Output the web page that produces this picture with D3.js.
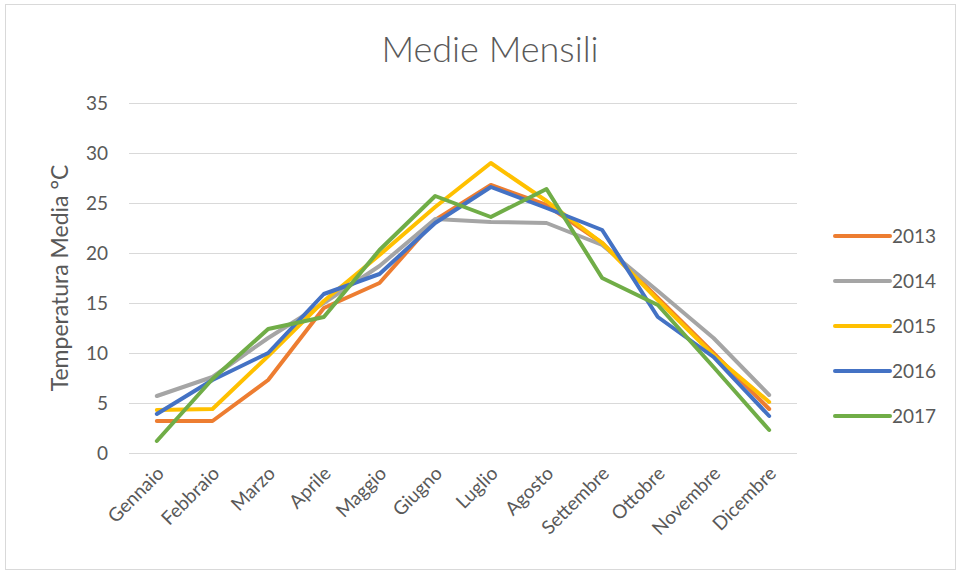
<!DOCTYPE html>
<html>
<head>
<meta charset="utf-8">
<script src="https://cdn.jsdelivr.net/npm/d3@7/dist/d3.min.js"></script>
<style>
  html, body { margin: 0; padding: 0; background: #ffffff; }
  svg { display: block; }
  text { font-family: Lato, "Open Sans", sans-serif; fill: #595959; }
</style>
</head>
<body>
<svg id="chart" width="961" height="574"></svg>
<script>
// Monthly mean temperatures (°C) per year
const months = ["Gennaio", "Febbraio", "Marzo", "Aprile", "Maggio", "Giugno",
                "Luglio", "Agosto", "Settembre", "Ottobre", "Novembre", "Dicembre"];
const years = ["2013", "2014", "2015", "2016", "2017"];
const values2013 = [3.2, 3.2, 7.3, 14.5, 17.0, 23.3, 26.8, 24.8, 21.0, 15.5, 10.0, 4.4];
const values2014 = [5.7, 7.6, 11.5, 15.0, 18.7, 23.4, 23.1, 23.0, 20.8, 16.2, 11.5, 5.8];
const values2015 = [4.3, 4.4, 9.7, 15.2, 19.8, 24.6, 29.0, 25.2, 21.0, 15.3, 9.8, 5.1];
const values2016 = [3.9, 7.3, 10.0, 15.9, 17.9, 23.0, 26.6, 24.5, 22.3, 13.6, 9.6, 3.7];
const values2017 = [1.2, 7.4, 12.4, 13.6, 20.3, 25.7, 23.6, 26.4, 17.5, 14.8, 8.6, 2.3];
const yTicks = [0, 5, 10, 15, 20, 25, 30, 35];
const colors = ["#ED7D31", "#A5A5A5", "#FFC000", "#4472C4", "#70AD47"];

const series = years.map((y, i) => ({
  year: y,
  color: colors[i],
  values: [values2013, values2014, values2015, values2016, values2017][i]
}));

const svg = d3.select("#chart");
const W = 961, H = 574;
const FONT = "Lato, 'Open Sans', sans-serif";

// outer chart frame
svg.append("rect")
  .attr("x", 5.5).attr("y", 4.5)
  .attr("width", W - 11).attr("height", H - 9)
  .attr("fill", "#fff").attr("stroke", "#d9d9d9").attr("stroke-width", 1);

const plot = { left: 129, right: 797, top: 103, bottom: 453 };

const x = d3.scalePoint()
  .domain(months)
  .range([plot.left, plot.right])
  .padding(0.5);

const y = d3.scaleLinear()
  .domain([0, 35])
  .range([plot.bottom, plot.top]);

// horizontal gridlines
svg.append("g")
  .selectAll("line")
  .data(yTicks)
  .join("line")
  .attr("x1", plot.left).attr("x2", plot.right)
  .attr("y1", d => Math.round(y(d)) + 0.5)
  .attr("y2", d => Math.round(y(d)) + 0.5)
  .attr("stroke", "#d9d9d9").attr("stroke-width", 1);

// y axis tick labels
const yAxis = d3.axisLeft(y).tickValues(yTicks).tickSize(0).tickPadding(0);
svg.append("g")
  .attr("transform", `translate(${plot.left - 21},0)`)
  .call(yAxis)
  .call(g => g.select(".domain").remove())
  .selectAll("text")
  .attr("font-size", 19)
  .attr("fill", "#595959")
  .style("font-family", FONT);

// x axis category labels, rotated
const xAxis = d3.axisBottom(x).tickSize(0).tickPadding(0);
svg.append("g")
  .attr("transform", `translate(0,${plot.bottom})`)
  .call(xAxis)
  .call(g => g.select(".domain").remove())
  .selectAll("text")
  .attr("font-size", 19)
  .attr("fill", "#595959")
  .style("font-family", FONT)
  .attr("text-anchor", "end")
  .attr("dy", "0.35em")
  .attr("transform", "translate(3,17) rotate(-45)");

// y axis title
svg.append("text")
  .attr("transform", "translate(68,278) rotate(-90)")
  .attr("text-anchor", "middle")
  .attr("font-size", 23)
  .text("Temperatura Media °C");

// chart title
svg.append("text")
  .attr("x", 490).attr("y", 62)
  .attr("text-anchor", "middle")
  .attr("font-size", 36)
  .attr("font-weight", 300)
  .text("Medie Mensili");

// series lines
const line = d3.line()
  .x((d, i) => x(months[i]))
  .y(d => y(d));

svg.append("g")
  .selectAll("path")
  .data(series)
  .join("path")
  .attr("d", d => line(d.values))
  .attr("fill", "none")
  .attr("stroke", d => d.color)
  .attr("stroke-width", 4)
  .attr("stroke-linejoin", "round")
  .attr("stroke-linecap", "round");

// legend
const legend = svg.append("g")
  .selectAll("g")
  .data(series)
  .join("g")
  .attr("transform", (d, i) => `translate(835,${236 + i * 45})`);

legend.append("line")
  .attr("x1", 0).attr("x2", 55)
  .attr("y1", 0).attr("y2", 0)
  .attr("stroke", d => d.color)
  .attr("stroke-width", 4)
  .attr("stroke-linecap", "round");

legend.append("text")
  .attr("x", 57).attr("y", 0)
  .attr("dy", "0.35em")
  .attr("font-size", 19)
  .text(d => d.year);
</script>
</body>
</html>
